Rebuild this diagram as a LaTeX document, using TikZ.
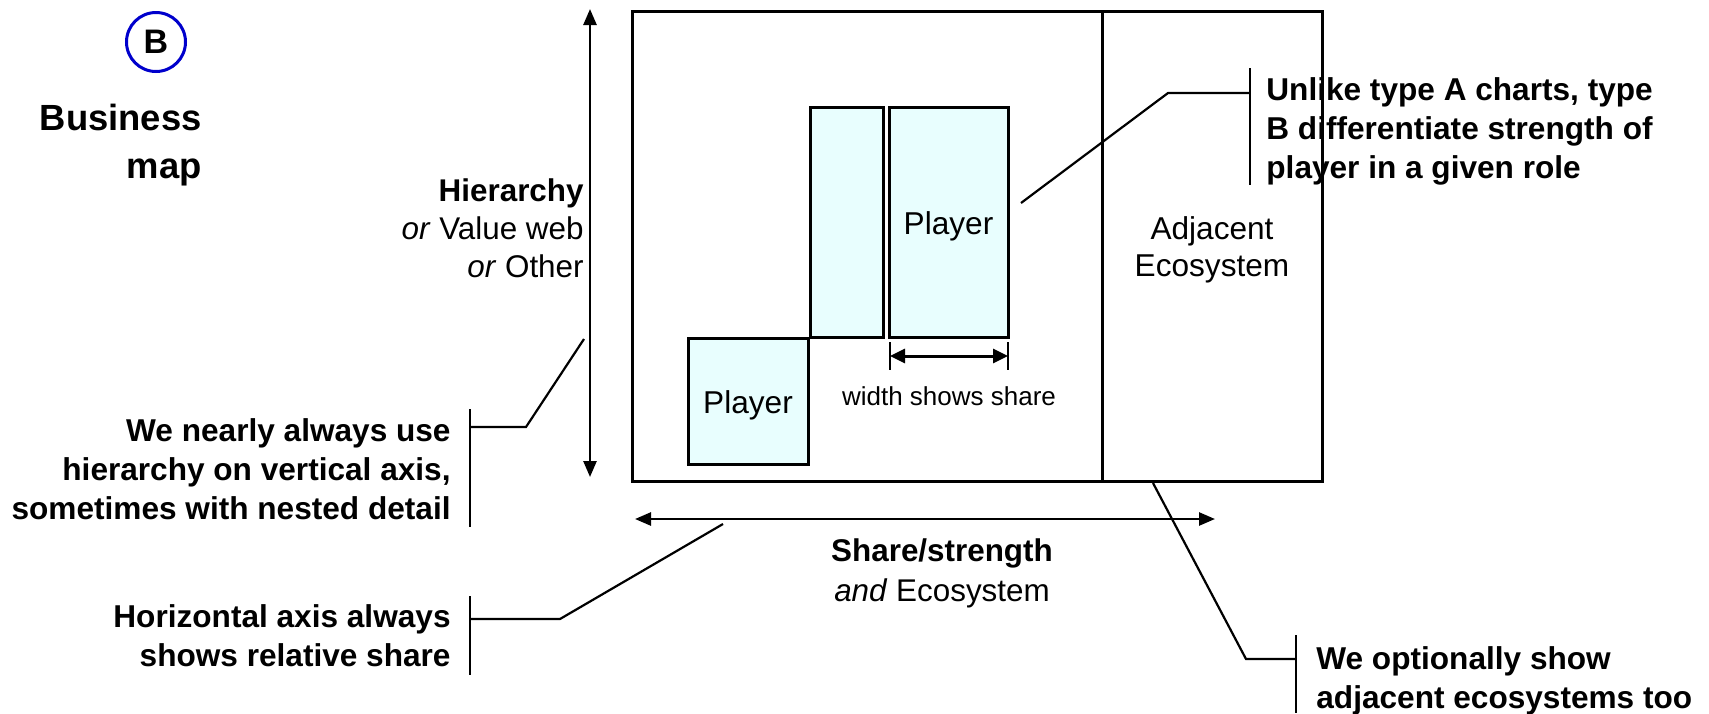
\documentclass[tikz,border=0pt]{standalone}
\usepackage{fontspec}
\setmainfont{Liberation Sans}
\usetikzlibrary{arrows.meta}
\definecolor{playerfill}{RGB}{232,254,254}
\definecolor{badgeblue}{RGB}{0,0,204}
\begin{document}
\begin{tikzpicture}[x=0.5pt,y=-0.5pt,
  box/.style={draw=black, line width=1.5pt, inner sep=0pt, outer sep=0pt, anchor=north west},
  playerbox/.style={box, fill=playerfill},
  inbox/.style={inner sep=0pt, font=\fontsize{15.8}{18.5}\selectfont, align=center},
  txt/.style={inner sep=0pt, font=\fontsize{15.8}{19.5}\selectfont},
  btxt/.style={inner sep=0pt, font=\fontsize{15.8}{19.5}\selectfont\bfseries},
  lead/.style={line width=1.1pt},
  axis/.style={line width=1.3pt, {Triangle[length=8pt,width=6.5pt]}-{Triangle[length=8pt,width=6.5pt]}},
]
\useasboundingbox (0,0) rectangle (1709,713);

% badge and title
\node[circle, draw=badgeblue, line width=1.5pt, minimum size=29.5pt, inner sep=0pt,
      font=\fontsize{17}{20}\selectfont\bfseries] (badge) at (156,42) {B};
\node[inner sep=0pt, anchor=east, align=right, font=\fontsize{18.2}{24}\selectfont\bfseries]
      (title) at (202,145) {Business\\map};

% main frame
\node[box, minimum width=235pt, minimum height=235pt] (mainbox) at (632,11) {};
\node[box, minimum width=110pt, minimum height=235pt] (adjbox) at (1102,11) {};
\node[inbox] (adjtext) at ([yshift=-2pt]adjbox.center) {Adjacent\\Ecosystem};

% players
\node[playerbox, minimum width=36.5pt, minimum height=115pt] (smallbar) at (810,107) {};
\node[playerbox, minimum width=59.5pt, minimum height=115pt] (bigbar) at (889,107) {};
\node[inbox] (bigbartext) at ([yshift=-2pt]bigbar.center) {Player};
\node[playerbox, minimum width=60pt, minimum height=63pt] (smallplayer) at (688,338) {};
\node[inbox] (smallplayertext) at ([yshift=-2pt]smallplayer.center) {Player};

% width arrow
\coordinate (wt1) at (890,342); \coordinate (wb1) at (890,370);
\coordinate (wt2) at (1008,342); \coordinate (wb2) at (1008,370);
\coordinate (wa1) at (890,356); \coordinate (wa2) at (1008,356);
\draw[line width=1.1pt] (wt1) -- (wb1) (wt2) -- (wb2);
\draw[line width=1.5pt, {Triangle[length=7.5pt,width=7pt]}-{Triangle[length=7.5pt,width=7pt]}] (wa1) -- (wa2);
\node[inner sep=0pt, font=\fontsize{13}{15}\selectfont] (wlabel) at (949,396) {width shows share};

% axes
\coordinate (vtop) at (590,9); \coordinate (vbot) at (590,477);
\draw[axis] (vtop) -- (vbot);
\coordinate (hl) at (635,519); \coordinate (hr) at (1215,519);
\draw[axis] (hl) -- (hr);

\node[txt, anchor=east, align=right, font=\fontsize{15.7}{19}\selectfont] (vlabel) at (584,228)
  {{\bfseries Hierarchy}\\\textit{or} Value web\\\textit{or} Other};
\node[txt, align=center, font=\fontsize{15.7}{20}\selectfont] (hlabel) at (942,573)
  {{\bfseries Share/strength}\\\textit{and} Ecosystem};

% callout 1
\node[btxt, anchor=east, align=right] (c1) at (451,469)
  {We nearly always use\\hierarchy on vertical axis,\\sometimes with nested detail};
\coordinate (b1t) at (470,409); \coordinate (b1b) at (470,527);
\coordinate (b1m) at (470,427); \coordinate (b1k) at (526,427); \coordinate (b1e) at (584,339);
\draw[lead] (b1t) -- (b1b);
\draw[lead] (b1m) -- (b1k) -- (b1e);

% callout 2
\node[btxt, anchor=east, align=right] (c2) at (451,636)
  {Horizontal axis always\\shows relative share};
\coordinate (b2t) at (470,596); \coordinate (b2b) at (470,675);
\coordinate (b2m) at (470,619); \coordinate (b2k) at (560,619); \coordinate (b2e) at (723,524);
\draw[lead] (b2t) -- (b2b);
\draw[lead] (b2m) -- (b2k) -- (b2e);

% callout 3
\node[btxt, anchor=west, align=left] (c3) at (1266,131)
  {Unlike type A charts, type\\B differentiate strength of\\player in a given role};
\coordinate (b3t) at (1250,68); \coordinate (b3b) at (1250,185);
\coordinate (b3m) at (1250,93); \coordinate (b3k) at (1168,93); \coordinate (b3e) at (1021,203);
\draw[lead] (b3t) -- (b3b);
\draw[lead] (b3m) -- (b3k) -- (b3e);

% callout 4
\node[btxt, anchor=west, align=left] (c4) at (1316,681)
  {We optionally show\\adjacent ecosystems too};
\coordinate (b4t) at (1296,635); \coordinate (b4b) at (1296,713);
\coordinate (b4m) at (1296,659); \coordinate (b4k) at (1246,659); \coordinate (b4e) at (1153,483);
\draw[lead] (b4t) -- (b4b);
\draw[lead] (b4m) -- (b4k) -- (b4e);
\end{tikzpicture}
\end{document}
